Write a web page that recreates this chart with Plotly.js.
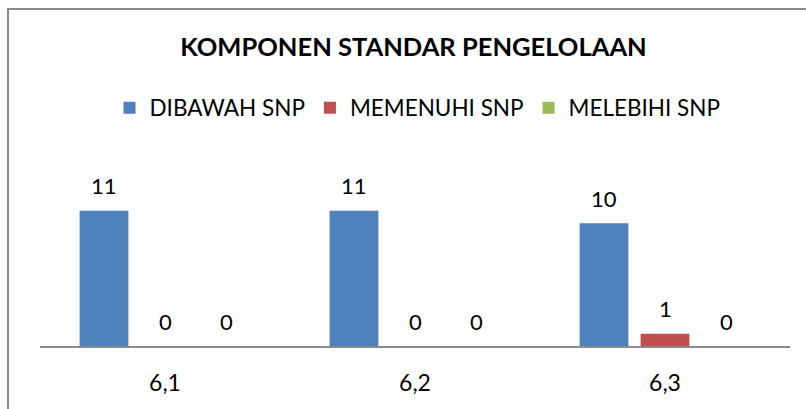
<!DOCTYPE html>
<html>
<head>
<meta charset="utf-8">
<script src="https://cdn.plot.ly/plotly-3.0.1.min.js"></script>
<style>
  html, body { margin: 0; padding: 0; background: #fff; overflow: hidden; }
  #wrap { position: relative; width: 806px; height: 409px; }
  #chart { position: absolute; left: 0; top: 0; width: 806px; height: 409px; }
  #frame { position: absolute; left: 7px; top: 8px; width: 830px; height: 440px;
           border: 2px solid #8a8a8a; pointer-events: none; }
</style>
</head>
<body>
<div id="wrap">
  <div id="chart"></div>
  <div id="frame"></div>
</div>
<script>
const categories = ["6,1", "6,2", "6,3"];
const seriesNames = ["DIBAWAH SNP", "MEMENUHI SNP", "MELEBIHI SNP"];
const dibawah = [11, 11, 10];
const memenuhi = [0, 0, 1];
const melebihi = [0, 0, 0];
const chartTitle = "KOMPONEN STANDAR PENGELOLAAN";

const values = [dibawah, memenuhi, melebihi];
const colors = ["#4F81BD", "#C0504D", "#9BBB59"];
const FONT = "Lato, 'Open Sans', sans-serif";

const bargap = 0.268, bargroupgap = 0.2;
const slot = (1 - bargap) / values.length;

const traces = values.map((v, i) => ({
  type: "bar",
  name: seriesNames[i],
  x: categories,
  y: v,
  marker: { color: colors[i] },
  hoverinfo: "skip"
}));

const annotations = [];
values.forEach((v, i) => {
  const off = (i - (values.length - 1) / 2) * slot;
  v.forEach((val, j) => {
    annotations.push({
      xref: "x", yref: "y",
      x: j + off, y: val,
      text: String(val),
      showarrow: false,
      yshift: 25,
      yanchor: "middle",
      xanchor: "center",
      font: { family: FONT, size: 22, color: "#000" }
    });
  });
});

const layout = {
  width: 806, height: 409,
  margin: { l: 40, r: 16, t: 174, b: 63 },
  paper_bgcolor: "#fff",
  plot_bgcolor: "#fff",
  barmode: "group",
  bargap: bargap,
  bargroupgap: bargroupgap,
  title: {
    text: "<b>" + chartTitle + "</b>",
    font: { family: FONT, size: 25.5, color: "#000" },
    x: 0.513, xanchor: "center",
    y: 1 - 47 / 409, yanchor: "middle", yref: "container"
  },
  showlegend: true,
  legend: {
    orientation: "h",
    x: 0.518, xanchor: "center", xref: "container",
    y: 1 - 108 / 409, yanchor: "middle", yref: "container",
    font: { family: FONT, size: 22.5, color: "#000" },
    itemwidth: 30,
    traceorder: "normal"
  },
  xaxis: {
    type: "category",
    showline: true, linecolor: "#8a8a8a", linewidth: 2,
    showgrid: false, zeroline: false,
    ticks: "",
    ticklabelstandoff: 15,
    tickfont: { family: FONT, size: 23, color: "#000" },
    fixedrange: true
  },
  yaxis: {
    range: [0, 14],
    visible: false,
    showgrid: false, zeroline: false,
    fixedrange: true
  },
  annotations: annotations
};

Plotly.newPlot("chart", traces, layout, { displayModeBar: false, staticPlot: true });
</script>
</body>
</html>
